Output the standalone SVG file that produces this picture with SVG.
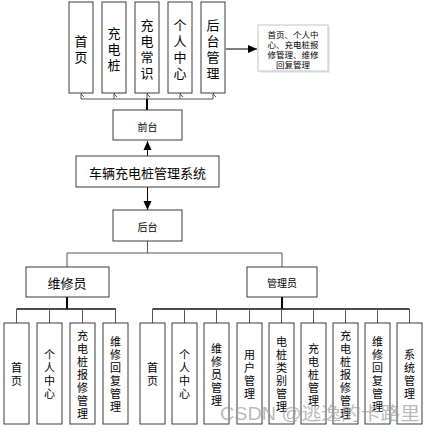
<svg xmlns="http://www.w3.org/2000/svg" width="427" height="432" viewBox="0 0 427 432">
<defs>
<style>
.box{fill:#fff;stroke:#3a3a3a;stroke-width:1}
.sh{fill:#d8d8d8}
.t{font-family:"Noto Sans CJK SC","Noto Sans",sans-serif;fill:#000;text-anchor:middle;dominant-baseline:central}
.big{font-size:13px}
.sm{font-size:10px}
.vs{font-size:11px}
.tiny{font-size:8.5px}
.thin{fill:none;stroke:#555;stroke-width:1}
.thick{fill:none;stroke:#000;stroke-width:2}
</style>
<marker id="open" markerWidth="8" markerHeight="8" refX="4" refY="1" orient="auto-start-reverse" markerUnits="userSpaceOnUse" viewBox="0 0 8 8">
<path d="M1,4 L4,1 L7,4" fill="none" stroke="#555" stroke-width="1"/>
</marker>
<marker id="solid" markerWidth="10" markerHeight="10" refX="9" refY="4" orient="auto" markerUnits="userSpaceOnUse" viewBox="0 0 10 8">
<path d="M0,0 L9,4 L0,8 Z" fill="#000"/>
</marker>
</defs>
<rect width="427" height="432" fill="#fff"/>

<g id="connectors">
<!-- top bus -->
<path class="thin" d="M81,99 H213"/>
<path class="thin" d="M81,99 V94" marker-end="url(#open)"/>
<path class="thin" d="M114,99 V94" marker-end="url(#open)"/>
<path class="thin" d="M147,99 V94" marker-end="url(#open)"/>
<path class="thin" d="M180,99 V94" marker-end="url(#open)"/>
<path class="thin" d="M213,99 V94" marker-end="url(#open)"/>
<path class="thick" d="M147,110 V99"/>
<!-- to note -->
<path d="M226,49 H257" stroke="#000" stroke-width="1" fill="none" marker-end="url(#solid)"/>
<!-- system to front -->
<path d="M147.5,156 V141" stroke="#000" stroke-width="1" fill="none" marker-end="url(#solid)"/>
<!-- system to back -->
<path d="M147.5,187 V210" stroke="#000" stroke-width="1" fill="none" marker-end="url(#solid)"/>
<!-- back to roles -->
<path class="thin" d="M147.5,241 V253 M67,267 V253 H282 V267"/>
<!-- roles to children -->
<path class="thick" d="M67,297 V309 M282,297 V309"/>
<path d="M16.5,309 H116 M152.5,309 H409.5" stroke="#111" stroke-width="1.5" fill="none"/>
<path class="thin" d="M16.5,309 V323 M49.5,309 V323 M82.5,309 V323 M115.5,309 V323"/>
<path class="thin" d="M152.5,309 V323 M184.5,309 V323 M216.5,309 V323 M249.5,309 V323 M281.5,309 V323 M313.5,309 V323 M345.5,309 V323 M377.5,309 V323 M409.5,309 V323"/>
</g>

<!-- top row -->
<g id="n-home">
<rect class="box" x="69" y="2" width="24" height="91"/>
<text class="t big"><tspan x="81" y="39.5">首</tspan><tspan x="81" y="55.5">页</tspan></text>
</g>
<g id="n-pile">
<rect class="box" x="102" y="2" width="24" height="91"/>
<text class="t big"><tspan x="114" y="31.5">充</tspan><tspan x="114" y="47.5">电</tspan><tspan x="114" y="63.5">桩</tspan></text>
</g>
<g id="n-know">
<rect class="box" x="135" y="2" width="24" height="91"/>
<text class="t big"><tspan x="147" y="23.5">充</tspan><tspan x="147" y="39.5">电</tspan><tspan x="147" y="55.5">常</tspan><tspan x="147" y="71.5">识</tspan></text>
</g>
<g id="n-user">
<rect class="box" x="168" y="2" width="24" height="91"/>
<text class="t big"><tspan x="180" y="23.5">个</tspan><tspan x="180" y="39.5">人</tspan><tspan x="180" y="55.5">中</tspan><tspan x="180" y="71.5">心</tspan></text>
</g>
<g id="n-admin">
<rect class="box" x="201" y="2" width="24" height="91"/>
<text class="t big"><tspan x="213" y="23.5">后</tspan><tspan x="213" y="39.5">台</tspan><tspan x="213" y="55.5">管</tspan><tspan x="213" y="71.5">理</tspan></text>
</g>
<g id="n-note">
<rect x="260" y="27" width="70" height="46" fill="#e6ecf5"/>
<rect x="258" y="25" width="70" height="46" fill="#fff" stroke="#c4c4c4" stroke-width="1"/>
<text class="t tiny"><tspan x="293" y="33.5">首页、个人中</tspan><tspan x="293" y="43.5">心、充电桩报</tspan><tspan x="293" y="53.5">修管理、维修</tspan><tspan x="293" y="63.5">回复管理</tspan></text>
</g>

<g id="n-front">
<rect class="box" x="113" y="110" width="69" height="30"/>
<text class="t sm" x="147.5" y="126">前台</text>
</g>
<g id="n-system">
<rect class="box" x="76" y="156" width="143" height="31"/>
<text class="t big" x="147.5" y="172">车辆充电桩管理系统</text>
</g>
<g id="n-back">
<rect class="box" x="113" y="210" width="69" height="31"/>
<text class="t sm" x="147.5" y="226">后台</text>
</g>
<g id="n-repair">
<rect class="box" x="26" y="267" width="83" height="30"/>
<text class="t big" x="67" y="282">维修员</text>
</g>
<g id="n-manager">
<rect class="box" x="247" y="267" width="70" height="30"/>
<text class="t sm" x="282" y="282.5">管理员</text>
</g>

<!-- repair children -->
<g id="r-home">
<rect class="box" x="4" y="323" width="25" height="101"/>
<text class="t vs"><tspan x="16.5" y="367">首</tspan><tspan x="16.5" y="380">页</tspan></text>
</g>
<g id="r-user">
<rect class="box" x="37" y="323" width="25" height="101"/>
<text class="t vs"><tspan x="49.5" y="354">个</tspan><tspan x="49.5" y="367">人</tspan><tspan x="49.5" y="380">中</tspan><tspan x="49.5" y="393">心</tspan></text>
</g>
<g id="r-report">
<rect class="box" x="70" y="323" width="25" height="101"/>
<text class="t vs"><tspan x="82.5" y="334.5">充</tspan><tspan x="82.5" y="347.5">电</tspan><tspan x="82.5" y="360.5">桩</tspan><tspan x="82.5" y="373.5">报</tspan><tspan x="82.5" y="386.5">修</tspan><tspan x="82.5" y="399.5">管</tspan><tspan x="82.5" y="412.5">理</tspan></text>
</g>
<g id="r-reply">
<rect class="box" x="103" y="323" width="25" height="101"/>
<text class="t vs"><tspan x="115.5" y="341">维</tspan><tspan x="115.5" y="354">修</tspan><tspan x="115.5" y="367">回</tspan><tspan x="115.5" y="380">复</tspan><tspan x="115.5" y="393">管</tspan><tspan x="115.5" y="406">理</tspan></text>
</g>

<!-- manager children -->
<g id="m-home">
<rect class="box" x="140" y="323" width="25" height="101"/>
<text class="t vs"><tspan x="152.5" y="367">首</tspan><tspan x="152.5" y="380">页</tspan></text>
</g>
<g id="m-user">
<rect class="box" x="172" y="323" width="25" height="101"/>
<text class="t vs"><tspan x="184.5" y="354">个</tspan><tspan x="184.5" y="367">人</tspan><tspan x="184.5" y="380">中</tspan><tspan x="184.5" y="393">心</tspan></text>
</g>
<g id="m-repairer">
<rect class="box" x="204" y="323" width="25" height="101"/>
<text class="t vs"><tspan x="216.5" y="347.5">维</tspan><tspan x="216.5" y="360.5">修</tspan><tspan x="216.5" y="373.5">员</tspan><tspan x="216.5" y="386.5">管</tspan><tspan x="216.5" y="399.5">理</tspan></text>
</g>
<g id="m-users">
<rect class="box" x="237" y="323" width="25" height="101"/>
<text class="t vs"><tspan x="249.5" y="354">用</tspan><tspan x="249.5" y="367">户</tspan><tspan x="249.5" y="380">管</tspan><tspan x="249.5" y="393">理</tspan></text>
</g>
<g id="m-category">
<rect class="box" x="269" y="323" width="25" height="101"/>
<text class="t vs"><tspan x="281.5" y="341">电</tspan><tspan x="281.5" y="354">桩</tspan><tspan x="281.5" y="367">类</tspan><tspan x="281.5" y="380">别</tspan><tspan x="281.5" y="393">管</tspan><tspan x="281.5" y="406">理</tspan></text>
</g>
<g id="m-pile">
<rect class="box" x="301" y="323" width="25" height="101"/>
<text class="t vs"><tspan x="313.5" y="347.5">充</tspan><tspan x="313.5" y="360.5">电</tspan><tspan x="313.5" y="373.5">桩</tspan><tspan x="313.5" y="386.5">管</tspan><tspan x="313.5" y="399.5">理</tspan></text>
</g>
<g id="m-report">
<rect class="box" x="333" y="323" width="25" height="101"/>
<text class="t vs"><tspan x="345.5" y="334.5">充</tspan><tspan x="345.5" y="347.5">电</tspan><tspan x="345.5" y="360.5">桩</tspan><tspan x="345.5" y="373.5">报</tspan><tspan x="345.5" y="386.5">修</tspan><tspan x="345.5" y="399.5">管</tspan><tspan x="345.5" y="412.5">理</tspan></text>
</g>
<g id="m-reply">
<rect class="box" x="365" y="323" width="25" height="101"/>
<text class="t vs"><tspan x="377.5" y="341">维</tspan><tspan x="377.5" y="354">修</tspan><tspan x="377.5" y="367">回</tspan><tspan x="377.5" y="380">复</tspan><tspan x="377.5" y="393">管</tspan><tspan x="377.5" y="406">理</tspan></text>
</g>
<g id="m-system">
<rect class="box" x="397" y="323" width="25" height="101"/>
<text class="t vs"><tspan x="409.5" y="354">系</tspan><tspan x="409.5" y="367">统</tspan><tspan x="409.5" y="380">管</tspan><tspan x="409.5" y="393">理</tspan></text>
</g>

<text x="220" y="420" font-family="Liberation Sans,&quot;Noto Sans CJK SC&quot;,sans-serif" font-size="18" fill="#9a9a9a" fill-opacity="0.7" textLength="200" lengthAdjust="spacingAndGlyphs">CSDN @逃逸的卡路里</text>
</svg>
